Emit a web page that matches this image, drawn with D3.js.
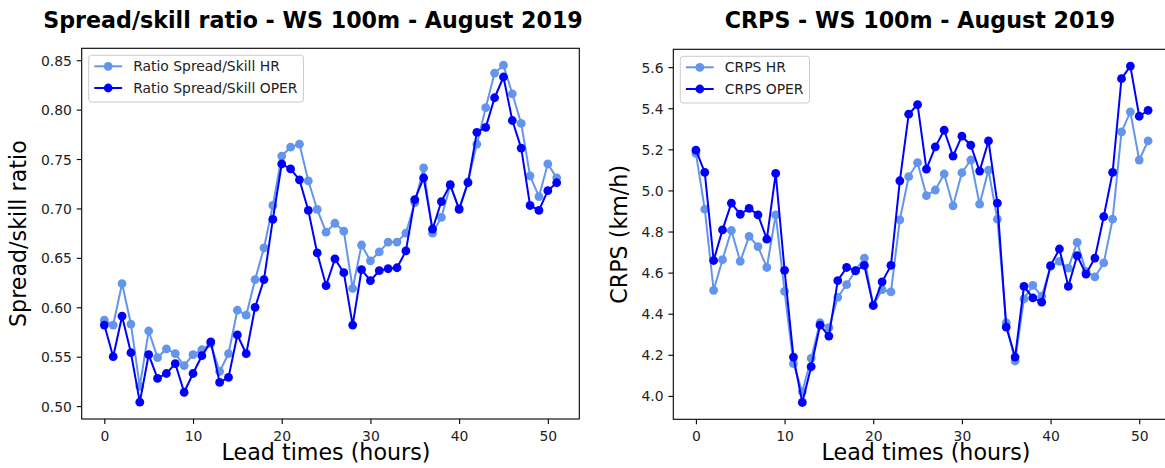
<!DOCTYPE html>
<html>
<head>
<meta charset="utf-8">
<script src="https://cdn.jsdelivr.net/npm/d3@7"></script>
<style>
  html, body { margin: 0; padding: 0; background: #fff; }
  svg { display: block; font-family: "DejaVu Sans", sans-serif; }
</style>
</head>
<body>
<svg id="chart" width="1165" height="468"></svg>
<script>
// Lead times 0..51 h
const leadTimes = d3.range(0, 52);

// Spread/skill ratio per lead time
const ratioHR = [0.587, 0.582, 0.624, 0.583, 0.520, 0.576, 0.549, 0.558, 0.553, 0.541,
  0.552, 0.557, 0.563, 0.535, 0.553, 0.597, 0.592, 0.628, 0.660, 0.703,
  0.753, 0.762, 0.765, 0.728, 0.699, 0.676, 0.685, 0.677, 0.619, 0.663,
  0.647, 0.656, 0.666, 0.666, 0.675, 0.706, 0.741, 0.675, 0.691, 0.723,
  0.700, 0.727, 0.765, 0.802, 0.837, 0.845, 0.816, 0.786, 0.733, 0.712,
  0.745, 0.731];
const ratioOPER = [0.582, 0.550, 0.591, 0.554, 0.504, 0.552, 0.528, 0.533, 0.543, 0.514,
  0.533, 0.551, 0.565, 0.524, 0.529, 0.572, 0.553, 0.600, 0.628, 0.689,
  0.745, 0.740, 0.729, 0.698, 0.655, 0.622, 0.649, 0.635, 0.582, 0.638,
  0.627, 0.637, 0.639, 0.640, 0.657, 0.709, 0.731, 0.679, 0.707, 0.724,
  0.699, 0.726, 0.777, 0.782, 0.812, 0.833, 0.789, 0.761, 0.703, 0.698,
  0.718, 0.726];

// CRPS (km/h) per lead time
const crpsHR = [5.180, 4.909, 4.514, 4.663, 4.805, 4.655, 4.776, 4.727, 4.625, 4.881,
  4.509, 4.157, 4.020, 4.183, 4.356, 4.332, 4.480, 4.542, 4.610, 4.671,
  4.440, 4.517, 4.506, 4.857, 5.067, 5.135, 4.975, 5.002, 5.080, 4.925,
  5.086, 5.148, 4.933, 5.099, 4.860, 4.356, 4.170, 4.472, 4.538, 4.485,
  4.630, 4.655, 4.622, 4.747, 4.606, 4.579, 4.647, 4.860, 5.285, 5.382,
  5.148, 5.241];
const crpsOPER = [5.196, 5.088, 4.659, 4.808, 4.938, 4.884, 4.913, 4.881, 4.763, 5.083,
  4.611, 4.189, 3.968, 4.142, 4.344, 4.291, 4.561, 4.625, 4.609, 4.635,
  4.440, 4.555, 4.635, 5.047, 5.371, 5.418, 5.104, 5.212, 5.293, 5.167,
  5.264, 5.220, 5.094, 5.241, 4.938, 4.335, 4.189, 4.533, 4.477, 4.456,
  4.634, 4.715, 4.533, 4.682, 4.593, 4.671, 4.873, 5.088, 5.544, 5.605,
  5.361, 5.390];

// Tick values
const xTicks = [0, 10, 20, 30, 40, 50];
const ratioTicks = [0.50, 0.55, 0.60, 0.65, 0.70, 0.75, 0.80, 0.85];
const crpsTicks = [4.0, 4.2, 4.4, 4.6, 4.8, 5.0, 5.2, 5.4, 5.6];

const colorHR = "#6495ED";
const colorOPER = "#0000FF";

const svg = d3.select("#chart");
const tickFont = 13.9;

function panel(cfg) {
  const g = svg.append("g");
  const { left, right, top, bottom } = cfg.box;

  // x domain with 5% margins either side, as in matplotlib autoscaling
  const xExt = d3.extent(leadTimes);
  const xPad = (xExt[1] - xExt[0]) * 0.05;
  const x = d3.scaleLinear().domain([xExt[0] - xPad, xExt[1] + xPad]).range([left, right]);

  const all = cfg.series.flatMap(s => s.values);
  const yExt = d3.extent(all);
  const yPad = (yExt[1] - yExt[0]) * 0.05;
  const y = d3.scaleLinear().domain([yExt[0] - yPad, yExt[1] + yPad]).range([bottom, top]);

  // Axes (ticks + labels)
  const xAxis = d3.axisBottom(x).tickValues(xTicks).tickSize(4.9).tickPadding(4.9).tickFormat(d3.format("d"));
  const yAxis = d3.axisLeft(y).tickValues(cfg.yTicks).tickSize(4.9).tickPadding(4.9).tickFormat(cfg.yFormat);

  const gx = g.append("g").attr("transform", `translate(0,${bottom})`).call(xAxis);
  const gy = g.append("g").attr("transform", `translate(${left},0)`).call(yAxis);
  [gx, gy].forEach(a => {
    a.select(".domain").remove();
    a.selectAll(".tick line").attr("stroke", "#000").attr("stroke-width", 1.1);
    a.selectAll(".tick text").attr("fill", "#222").style("font-size", tickFont + "px")
      .style("font-family", "DejaVu Sans");
  });
  gx.selectAll(".tick text").attr("dy", null).attr("y", 22);
  gy.selectAll(".tick text").attr("dy", "0.36em");

  // Series: line then markers, HR first, OPER on top
  const line = d3.line().x((d, i) => x(leadTimes[i])).y(d => y(d));
  const clipId = "clip-" + cfg.id;
  g.append("clipPath").attr("id", clipId).append("rect")
    .attr("x", left).attr("y", top).attr("width", right - left).attr("height", bottom - top);
  const plot = g.append("g").attr("clip-path", `url(#${clipId})`);
  cfg.series.forEach(s => {
    plot.append("path").datum(s.values).attr("d", line)
      .attr("fill", "none").attr("stroke", s.color).attr("stroke-width", 2)
      .attr("stroke-linejoin", "round").attr("stroke-linecap", "square");
    plot.selectAll(null).data(s.values).join("circle")
      .attr("cx", (d, i) => x(leadTimes[i])).attr("cy", d => y(d)).attr("r", 4.4)
      .attr("fill", s.color);
  });

  // Frame
  g.append("rect").attr("x", left).attr("y", top).attr("width", right - left).attr("height", bottom - top)
    .attr("fill", "none").attr("stroke", "#000").attr("stroke-width", 1.1);

  // Legend
  const lg = g.append("g");
  const lx = left + 7, ly = top + 7;
  const frame = lg.append("rect").attr("x", lx).attr("y", ly).attr("rx", 2.8).attr("ry", 2.8)
    .attr("fill", "#fff").attr("fill-opacity", 0.8).attr("stroke", "#ccc").attr("stroke-width", 1);
  let maxW = 0;
  cfg.series.forEach((s, k) => {
    const cy = ly + 11 + k * 21.7;
    lg.append("line").attr("x1", lx + 5.6).attr("x2", lx + 33.4).attr("y1", cy).attr("y2", cy)
      .attr("stroke", s.color).attr("stroke-width", 2);
    lg.append("circle").attr("cx", lx + 19.5).attr("cy", cy).attr("r", 4.4).attr("fill", s.color);
    const t = lg.append("text").attr("x", lx + 44.5).attr("y", cy).attr("dy", "0.36em")
      .style("font-size", tickFont + "px").attr("fill", "#222").text(s.label);
    maxW = Math.max(maxW, t.node().getComputedTextLength());
  });
  frame.attr("width", 44.5 + maxW + 6).attr("height", 46.7);

  // Title and axis labels
  g.append("text").attr("x", cfg.titleX).attr("y", 27.5).attr("text-anchor", "middle")
    .style("font-size", "22.2px").style("font-weight", "bold").attr("fill", "#000").text(cfg.title);
  g.append("text").attr("x", cfg.xLabelX).attr("y", 460).attr("text-anchor", "middle")
    .style("font-size", "22.2px").attr("fill", "#000").text("Lead times (hours)");
  g.append("text").attr("transform", `translate(${cfg.yLabelX},${(top + bottom) / 2}) rotate(-90)`)
    .attr("text-anchor", "middle").style("font-size", "22.2px").attr("fill", "#000").text(cfg.yLabel);
}

panel({
  id: "ratio",
  box: { left: 81.7, right: 579.3, top: 48.3, bottom: 419 },
  series: [
    { label: "Ratio Spread/Skill HR", values: ratioHR, color: colorHR },
    { label: "Ratio Spread/Skill OPER", values: ratioOPER, color: colorOPER }
  ],
  yTicks: ratioTicks,
  yFormat: d3.format(".2f"),
  title: "Spread/skill ratio - WS 100m - August 2019",
  titleX: 313,
  xLabelX: 326,
  yLabel: "Spread/skill ratio",
  yLabelX: 26
});

panel({
  id: "crps",
  box: { left: 673.3, right: 1170.7, top: 49.3, bottom: 419.3 },
  series: [
    { label: "CRPS HR", values: crpsHR, color: colorHR },
    { label: "CRPS OPER", values: crpsOPER, color: colorOPER }
  ],
  yTicks: crpsTicks,
  yFormat: d3.format(".1f"),
  title: "CRPS - WS 100m - August 2019",
  titleX: 920,
  xLabelX: 926,
  yLabel: "CRPS (km/h)",
  yLabelX: 627
});
</script>
</body>
</html>
